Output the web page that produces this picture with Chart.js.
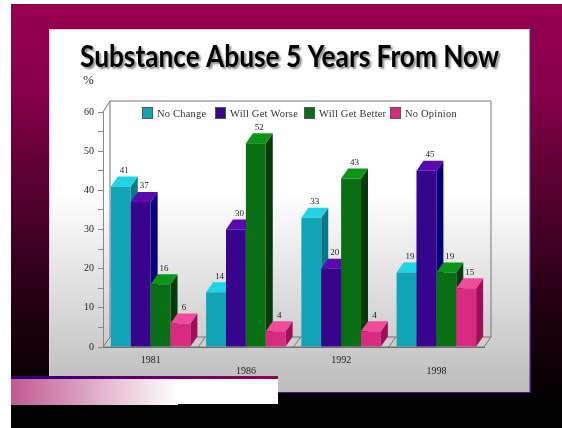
<!DOCTYPE html>
<html>
<head>
<meta charset="utf-8">
<title>Substance Abuse 5 Years From Now</title>
<script src="https://cdn.jsdelivr.net/npm/chart.js@4/dist/chart.umd.min.js"></script>
<style>
  html, body { margin: 0; padding: 0; background: #fff; }
  canvas { display: block; }
</style>
</head>
<body>
<div style="width:562px;height:428px"><canvas id="abuseChart"></canvas></div>
<script>
const years = ['1981', '1986', '1992', '1998'];
const seriesNames = ['No Change', 'Will Get Worse', 'Will Get Better', 'No Opinion'];
const noChange = [41, 14, 33, 19];
const willGetWorse = [37, 30, 20, 45];
const willGetBetter = [16, 52, 43, 19];
const noOpinion = [6, 4, 4, 15];

const frontColors = ['#10a4b6', '#36058c', '#0a6e14', '#d82a80'];
const topColors = ['#1fd4e4', '#5a08b0', '#0c9618', '#f04a9a'];
const sideColors = ['#0a7688', '#06007a', '#053a0a', '#a00d58'];

const labelFont = '"Liberation Serif", serif';
const depthX = 7;
const depthY = 10;

function poly(ctx, pts, fill, stroke) {
    ctx.beginPath();
    pts.forEach((p, i) => i ? ctx.lineTo(p[0], p[1]) : ctx.moveTo(p[0], p[1]));
    ctx.closePath();
    if (fill) { ctx.fillStyle = fill; ctx.fill(); }
    if (stroke) { ctx.strokeStyle = stroke; ctx.lineWidth = 1; ctx.stroke(); }
}

// slide behind the chart
const slidePlugin = {
    id: 'slide',
    beforeDraw(chart) {
        const ctx = chart.ctx;
        const bg = ctx.createLinearGradient(0, 4, 0, 428);
        bg.addColorStop(0, '#98004f');
        bg.addColorStop(0.2, '#87004a');
        bg.addColorStop(0.5, '#4a0028');
        bg.addColorStop(0.75, '#1c000e');
        bg.addColorStop(0.95, '#000000');
        ctx.fillStyle = bg;
        ctx.fillRect(11, 4, 551, 424);

        // panel edges
        ctx.fillStyle = '#4b1a8c';
        ctx.fillRect(529, 29, 2, 364);
        ctx.fillRect(50, 392, 481, 1);
        ctx.fillStyle = '#f0c8ec';
        ctx.fillRect(49, 30, 1, 362);
        ctx.fillRect(49, 29, 481, 1);
        const panel = ctx.createLinearGradient(0, 30, 0, 392);
        panel.addColorStop(0, '#ffffff');
        panel.addColorStop(0.45, '#ffffff');
        panel.addColorStop(1, '#bcbcbc');
        ctx.fillStyle = panel;
        ctx.fillRect(50, 30, 479.5, 362);

        ctx.save();
        ctx.font = 'bold 30px Lato, sans-serif';
        ctx.fillStyle = '#000';
        ctx.textAlign = 'left';
        ctx.textBaseline = 'alphabetic';
        ctx.shadowColor = 'rgba(0,0,0,0.45)';
        ctx.shadowOffsetX = 2;
        ctx.shadowOffsetY = 2;
        ctx.shadowBlur = 2;
        ctx.translate(80, 67);
        ctx.scale(0.875, 1);
        ctx.fillText('Substance Abuse 5 Years From Now', 0, 0);
        ctx.restore();

        ctx.save();
        ctx.font = '13px ' + labelFont;
        ctx.fillStyle = '#222';
        ctx.textAlign = 'left';
        ctx.textBaseline = 'middle';
        ctx.fillText('%', 83, 81);
        ctx.restore();
    },
    afterDraw(chart) {
        const ctx = chart.ctx;
        const strip = ctx.createLinearGradient(11, 0, 278, 0);
        strip.addColorStop(0, '#2a0082');
        strip.addColorStop(1, '#a00050');
        ctx.fillStyle = strip;
        ctx.fillRect(11, 376, 267, 3);
        const fade = ctx.createLinearGradient(11, 0, 178, 0);
        fade.addColorStop(0, '#c05a90');
        fade.addColorStop(1, '#ffffff');
        ctx.fillStyle = fade;
        ctx.fillRect(11, 379, 167, 26);
        ctx.fillStyle = '#ffffff';
        ctx.fillRect(178, 379, 100, 25);
    }
};

// fake 3D: walls and floor, then bars left to right with side and top faces
const bars3dPlugin = {
    id: 'bars3d',
    beforeDatasetsDraw(chart) {
        const ctx = chart.ctx;
        const area = chart.chartArea;
        const xs = chart.scales.x;
        const wallTop = area.top - 11;
        const line = '#777777';

        poly(ctx, [[area.left, area.bottom], [area.right, area.bottom],
            [area.right + depthX, area.bottom - depthY], [area.left + depthX, area.bottom - depthY]], '#cdcdcd', line);
        ctx.strokeStyle = line;
        ctx.lineWidth = 1;
        ctx.beginPath();
        ctx.moveTo(area.left + depthX, area.bottom - depthY);
        ctx.lineTo(area.left + depthX, wallTop);
        ctx.lineTo(area.right + depthX, wallTop);
        ctx.lineTo(area.right + depthX, area.bottom - depthY);
        ctx.moveTo(area.left, area.top);
        ctx.lineTo(area.left + depthX, wallTop);
        for (let i = 0; i < years.length - 1; i++) {
            const bx = xs.getPixelForValue(i + 0.5);
            ctx.moveTo(bx, area.bottom);
            ctx.lineTo(bx + depthX, area.bottom - depthY);
        }
        ctx.stroke();

        ctx.font = '9px ' + labelFont;
        ctx.fillStyle = '#222';
        ctx.textAlign = 'center';
        ctx.textBaseline = 'middle';
        years.forEach((year, i) => {
            chart.data.datasets.forEach((ds, d) => {
                const bar = chart.getDatasetMeta(d).data[i];
                const half = bar.width / 2;
                const l = bar.x - half, r = bar.x + half, t = bar.y, b = bar.base;
                poly(ctx, [[r, t], [r + depthX, t - depthY], [r + depthX, b - depthY], [r, b]], sideColors[d]);
                poly(ctx, [[l, t], [r, t], [r + depthX, t - depthY], [l + depthX, t - depthY]], topColors[d]);
                bar.draw(ctx);
                ctx.fillStyle = '#222';
                ctx.fillText(String(ds.data[i]), bar.x + depthX / 2, t - depthY - 6);
            });
        });

        // legend row
        ctx.font = '10.5px ' + labelFont;
        ctx.letterSpacing = '0.2px';
        ctx.textAlign = 'left';
        const legendX = [142, 215, 304, 390];
        seriesNames.forEach((name, d) => {
            ctx.fillStyle = frontColors[d];
            ctx.fillRect(legendX[d], 107, 11, 12);
            ctx.strokeStyle = '#555';
            ctx.strokeRect(legendX[d] + 0.5, 107.5, 10, 11);
            ctx.fillStyle = '#333';
            ctx.fillText(name, legendX[d] + 15, 114);
        });
        ctx.letterSpacing = '0px';
        return false;
    }
};

const seriesValues = [noChange, willGetWorse, willGetBetter, noOpinion];

new Chart(document.getElementById('abuseChart'), {
    type: 'bar',
    data: {
        labels: years,
        datasets: seriesNames.map((name, d) => ({
            label: name,
            data: seriesValues[d],
            backgroundColor: frontColors[d],
            categoryPercentage: 0.835,
            barPercentage: 1
        }))
    },
    options: {
        responsive: true,
        maintainAspectRatio: false,
        animation: false,
        layout: { padding: { top: 112, left: 0, right: 78, bottom: 0 } },
        plugins: { legend: { display: false }, tooltip: { enabled: false } },
        scales: {
            x: {
                afterFit(scale) { scale.height = 81; },
                grid: { display: false },
                border: { display: true, color: '#666666' },
                ticks: {
                    color: '#222',
                    font: { family: labelFont, size: 10, lineHeight: 1.1 },
                    padding: 0,
                    maxRotation: 0,
                    // every other year sits one row lower
                    callback(value, index) {
                        return index % 2 ? ['', years[index]] : years[index];
                    }
                }
            },
            y: {
                min: 0,
                max: 60,
                afterFit(scale) { scale.width = 103; },
                grid: { drawOnChartArea: false, tickLength: 5, color: '#888888' },
                border: { display: true, color: '#888888' },
                ticks: {
                    stepSize: 5,
                    autoSkip: false,
                    color: '#222',
                    padding: 4,
                    font: { family: labelFont, size: 10 },
                    callback(value) { return value % 10 === 0 ? value : ''; }
                }
            }
        }
    },
    plugins: [slidePlugin, bars3dPlugin]
});
</script>
</body>
</html>
